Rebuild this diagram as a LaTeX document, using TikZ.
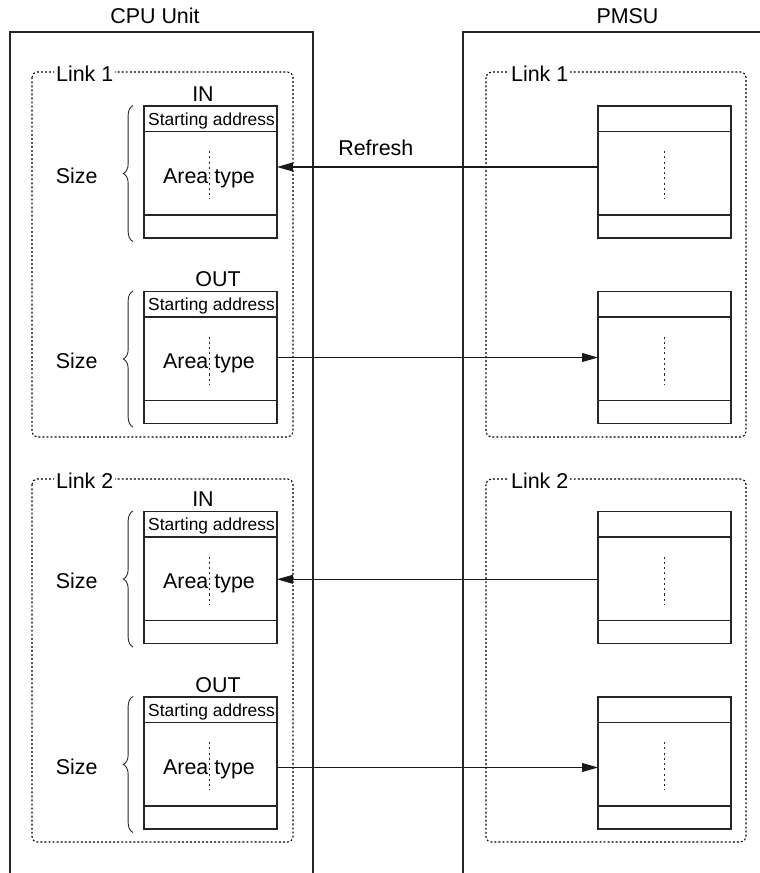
\documentclass[tikz,border=0pt]{standalone}
\usepackage{fontspec}
\setmainfont{Liberation Sans}
\usetikzlibrary{arrows.meta,positioning,decorations.pathreplacing}

\begin{document}
\begin{tikzpicture}[x=0.02cm,y=-0.02cm,
  unit/.style={draw=black!85,line width=0.6pt},
  linkbox/.style={draw=black,line width=0.6pt,dash pattern=on 1.1pt off 1.2pt,rounded corners=3pt},
  linklabel/.style={fill=white,inner sep=1pt,anchor=base west,font=\fontsize{12.2}{14}\selectfont},
  areabox/.style={draw=black!85,line width=0.6pt,minimum width=2.66cm,minimum height=2.64cm,inner sep=0pt,outer sep=0pt},
  guide/.style={draw=black!85,line width=0.4pt,dash pattern=on 1.2pt off 1.8pt},
  big/.style={font=\fontsize{12.2}{14}\selectfont,inner sep=0pt},
  small/.style={font=\fontsize{9.9}{11}\selectfont,inner sep=0pt},
  flow/.style={draw=black!90,line width=0.6pt,-{Triangle[length=9pt,width=5pt]}},
  sizebrace/.style={draw=black!85,line width=0.5pt,decorate,decoration={brace,amplitude=5.5pt}}]
  \useasboundingbox (0,0) rectangle (760,873);

  % the two units
  \draw[unit] (10,873) -- (10,32) -- (313,32) -- (313,873);
  \draw[unit] (463,873) -- (463,32) -- (760,32);
  \node[big,anchor=base] (cpu) at (155,23.3) {CPU Unit};
  \node[big,anchor=base] (pmsu) at (627.5,23.3) {PMSU};

  % links
  \draw[linkbox] (32,72) rectangle (293,437);
  \draw[linkbox] (32,479) rectangle (293,842);
  \draw[linkbox] (486,72) rectangle (746,437);
  \draw[linkbox] (486,479) rectangle (746,842);
  \node[linklabel] (linkc1) at (54,81.7) {Link 1};
  \node[linklabel] (linkc2) at (54,488.7) {Link 2};
  \node[linklabel] (linkp1) at (509,81.7) {Link 1};
  \node[linklabel] (linkp2) at (509,488.7) {Link 2};

  \foreach \nm/\t/\io/\ix in {in1/106/IN/203, out1/291.5/OUT/218, in2/511.5/IN/203, out2/697/OUT/218} {
    % CPU side
    \node[areabox] (c\nm) at (210.5,{\t+66}) {};
    \draw[unit] (c\nm.north west) ++(0,25.5) -- ++(133,0);
    \draw[unit] (c\nm.north west) ++(0,109) -- ++(133,0);
    \draw[guide] (209,{\t+45}) -- (209,{\t+93});
    \node[small,anchor=base] (s\nm) at (211.5,{\t+19}) {Starting address};
    \node[big,anchor=base] (a\nm) at (209,{\t+77.3}) {Area type};
    \node[big,anchor=base] (l\nm) at (\ix,{\t-4.7}) {\io};
    \node[big,anchor=base] (z\nm) at (76.7,{\t+77.3}) {Size};
    \draw[sizebrace] (133,{\t+135.5}) -- (133,{\t-0.5});
    % PMSU side
    \node[areabox] (p\nm) at (664.5,{\t+66}) {};
    \draw[unit] (p\nm.north west) ++(0,25.5) -- ++(133,0);
    \draw[unit] (p\nm.north west) ++(0,109) -- ++(133,0);
    \draw[guide] (664.5,{\t+45}) -- (664.5,{\t+93});
  }

  % refresh transfers
  \node[big,anchor=base] (refresh) at (375.8,155) {Refresh};
  \draw[flow] ([yshift=0.1cm]pin1.west) -- ([yshift=0.1cm]cin1.east);
  \draw[flow] (cout1.east) -- (pout1.west);
  \draw[flow] ([yshift=-0.036cm]pin2.west) -- ([yshift=-0.036cm]cin2.east);
  \draw[flow] ([yshift=-0.09cm]cout2.east) -- ([yshift=-0.09cm]pout2.west);
\end{tikzpicture}
\end{document}
